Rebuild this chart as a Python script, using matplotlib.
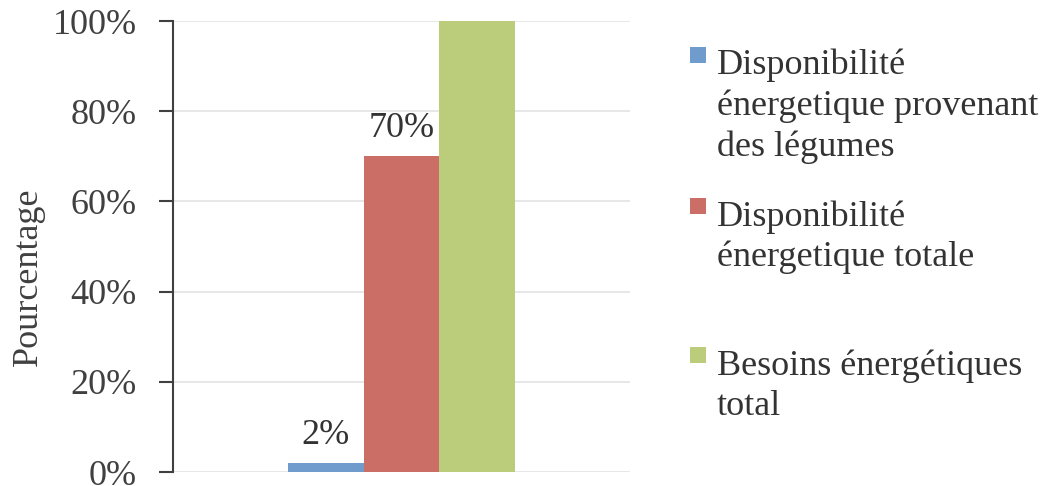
import matplotlib
matplotlib.use("Agg")
import matplotlib.pyplot as plt
from matplotlib.patches import Rectangle
from matplotlib.ticker import FixedLocator

series = ["Disponibilité\nénergetique provenant\ndes légumes",
          "Disponibilité\nénergetique totale",
          "Besoins énergétiques\ntotal"]
values = [2, 70, 100]
value_labels = ["2%", "70%", None]
colors = ["#6F9BCD", "#CB6E66", "#BBCC7B"]
yticks = [0, 20, 40, 60, 80, 100]
ytick_labels = ["0%", "20%", "40%", "60%", "80%", "100%"]

plt.rcParams["font.family"] = ["Liberation Serif", "DejaVu Serif"]

W, H = 1054, 486
fig = plt.figure(figsize=(W / 100, H / 100), dpi=100)
ax = fig.add_axes([173 / W, 1 - 472 / H, (630 - 173) / W, (472 - 21) / H])

positions = [-1, 0, 1]
bars = ax.bar(positions, values, width=1.0, color=colors, zorder=3, linewidth=0)
for b, lab in zip(bars, value_labels):
    if lab:
        ax.annotate(lab, (b.get_x() + b.get_width() / 2, b.get_height()),
                    xytext=(0, 8), textcoords="offset points",
                    ha="center", va="bottom", fontsize=26, color="#333333")

ax.set_xlim(-3.02, 3.02)
ax.set_ylim(0, 100)
ax.yaxis.set_major_locator(FixedLocator(yticks))
ax.set_yticklabels(ytick_labels)
ax.set_xticks([])
ax.tick_params(axis="y", length=10, width=1.5, color="#404040", pad=16,
               labelsize=26, labelcolor="#404040", direction="out")
ax.grid(axis="y", color="#E3E3E3", linewidth=1.2, zorder=0)
for s in ["top", "right", "bottom"]:
    ax.spines[s].set_visible(False)
ax.spines["left"].set_color("#404040")
ax.spines["left"].set_linewidth(1.5)

fig.text(28 / W, 1 - 277 / H, "Pourcentage", rotation=90, ha="center", va="center",
         fontsize=26, color="#404040")

# legend (manual)
sq_tops = [47, 198, 347]
for lab, col, top in zip(series, colors, sq_tops):
    fig.patches.append(Rectangle((690 / W, 1 - (top + 16) / H), 16 / W, 16 / H,
                                 transform=fig.transFigure, facecolor=col,
                                 edgecolor="none"))
    fig.text(717 / W, 1 - (top + 2) / H, lab, ha="left", va="top", fontsize=26,
             color="#333333", linespacing=1.28)

fig.savefig("out.png", dpi=100)
